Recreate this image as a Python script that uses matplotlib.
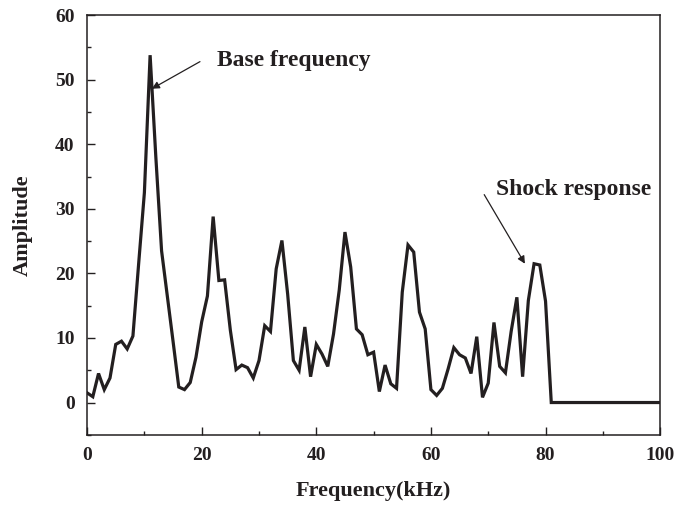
"""Amplitude spectrum with base frequency and shock response callouts."""
import matplotlib
matplotlib.use('Agg')
import matplotlib.pyplot as plt
from matplotlib.ticker import MultipleLocator

plt.rcParams['font.family'] = ['Liberation Serif', 'DejaVu Serif']
plt.rcParams['font.weight'] = 'bold'

# ── Data ───────────────────────────────────────────────────────────────────
freq_khz = [0, 1, 2, 3, 4, 5, 6, 7, 8, 9,
            10, 11, 12, 13, 14, 15, 16, 17, 18, 19,
            20, 21, 22, 23, 24, 25, 26, 27, 28, 29,
            30, 31, 32, 33, 34, 35, 36, 37, 38, 39,
            40, 41, 42, 43, 44, 45, 46, 47, 48, 49,
            50, 51, 52, 53, 54, 55, 56, 57, 58, 59,
            60, 61, 62, 63, 64, 65, 66, 67, 68, 69,
            70, 71, 72, 73, 74, 75, 76, 77, 78, 79,
            80, 81, 100]
amplitude = [1.5, 0.9, 4.5, 2.0, 3.8, 9.0, 9.5, 8.3, 10.3, 21.5,
             32.5, 53.8, 38.0, 23.5, 16.5, 9.5, 2.4, 2.0, 3.1, 7.0,
             12.5, 16.5, 28.8, 18.9, 19.0, 11.2, 5.1, 5.8, 5.4, 3.8,
             6.5, 11.9, 11.0, 20.7, 25.1, 16.8, 6.5, 5.0, 11.7, 4.0,
             9.0, 7.5, 5.6, 10.6, 17.4, 26.4, 21.0, 11.4, 10.5, 7.4,
             7.8, 1.7, 5.8, 2.9, 2.2, 17.1, 24.4, 23.3, 14.0, 11.4,
             2.0, 1.1, 2.2, 5.2, 8.5, 7.4, 6.9, 4.5, 10.2, 0.8,
             3.0, 12.4, 5.6, 4.6, 11.0, 16.3, 4.0, 15.8, 21.5, 21.3,
             15.7, 0.0, 0.0]

INK = '#231f20'

fig = plt.figure(figsize=(6.75, 5.05), dpi=100)
ax = fig.add_axes([0.129, 0.139, 0.849, 0.831])

ax.plot(freq_khz, amplitude, color=INK, lw=2.3, solid_joinstyle='miter')

ax.set_xlim(0, 100)
ax.set_ylim(-5, 60)
ax.xaxis.set_major_locator(MultipleLocator(20))
ax.xaxis.set_minor_locator(MultipleLocator(10))
ax.yaxis.set_major_locator(MultipleLocator(10))
ax.yaxis.set_minor_locator(MultipleLocator(5))
ax.tick_params(which='both', direction='in', top=False, right=False,
               colors=INK, labelsize=14, width=1.0)
ax.tick_params(which='major', length=6, pad=9)
ax.tick_params(which='minor', length=3)
for s in ax.spines.values():
    s.set_color(INK)
    s.set_linewidth(1.1)

ax.set_xlabel('Frequency(kHz)', fontsize=16, fontweight='bold', color=INK, labelpad=12)
ax.set_ylabel('Amplitude', fontsize=16, fontweight='bold', color=INK, labelpad=16)

# ── Callouts ───────────────────────────────────────────────────────────────
ax.text(22.7, 53.0, 'Base frequency', fontsize=17, fontweight='bold',
        color=INK, ha='left', va='center')
ax.annotate('', xy=(11.3, 48.6), xytext=(19.7, 52.8),
            arrowprops=dict(arrowstyle='-|>', color=INK, lw=0.9,
                            mutation_scale=11, shrinkA=0, shrinkB=0))
ax.text(71.4, 33.0, 'Shock response', fontsize=17, fontweight='bold',
        color=INK, ha='left', va='center')
ax.annotate('', xy=(76.4, 21.5), xytext=(69.3, 32.2),
            arrowprops=dict(arrowstyle='-|>', color=INK, lw=0.9,
                            mutation_scale=11, shrinkA=0, shrinkB=0))

fig.savefig('out.png', dpi=100, facecolor='white')
